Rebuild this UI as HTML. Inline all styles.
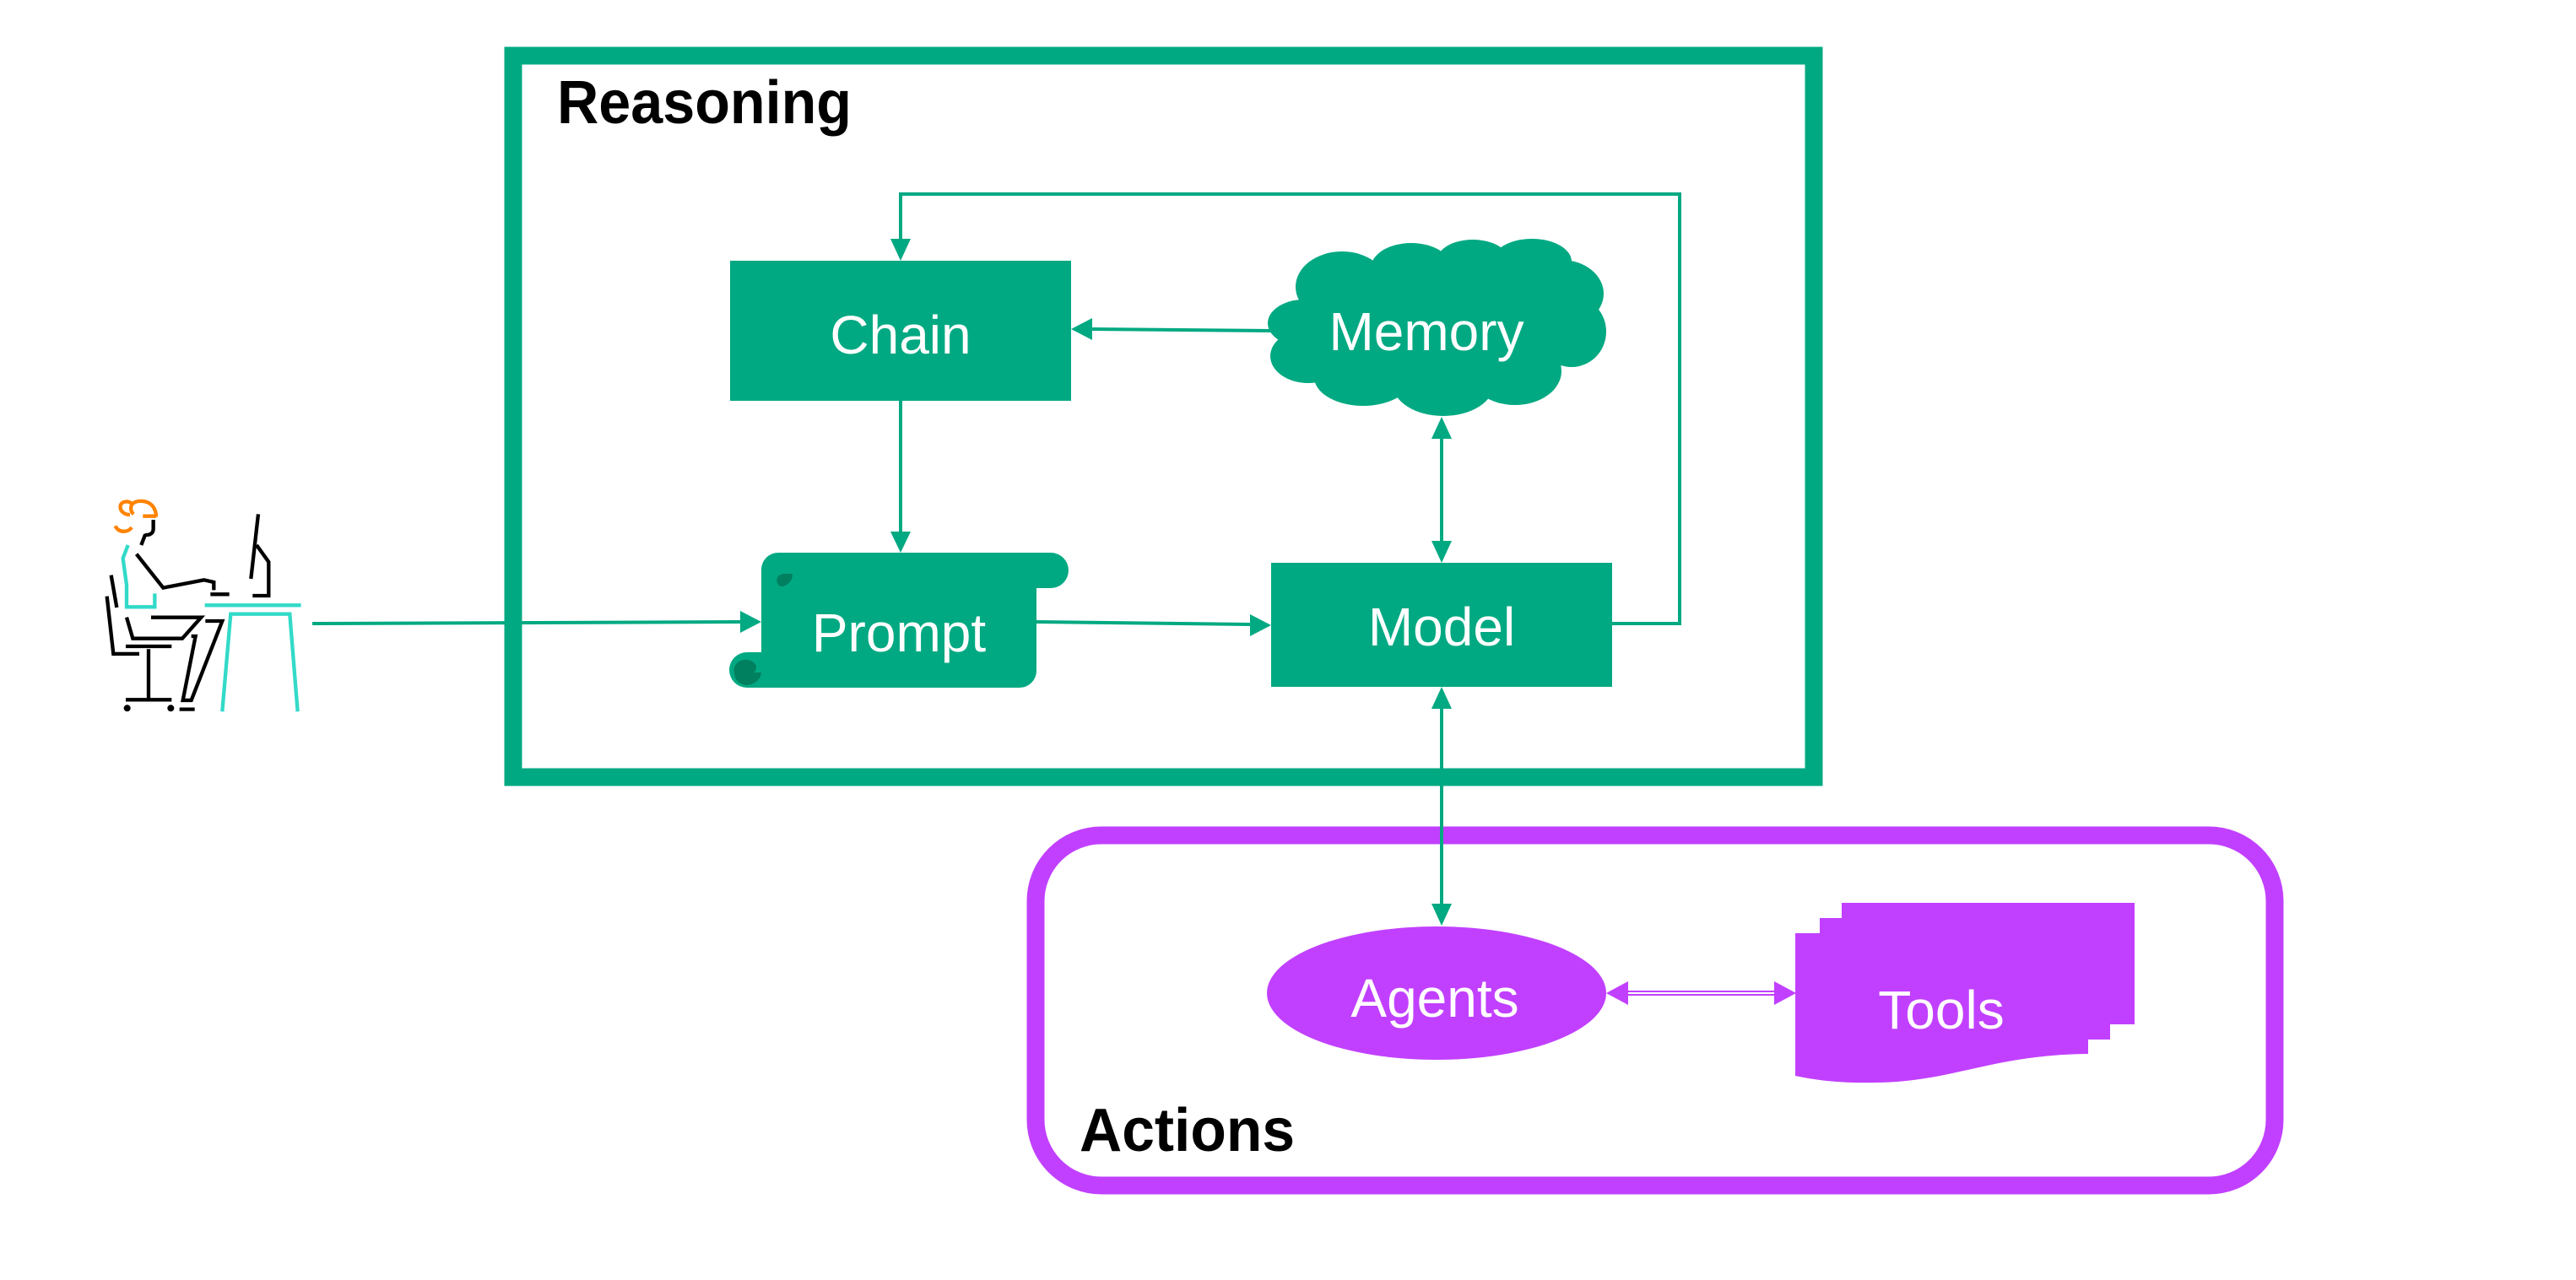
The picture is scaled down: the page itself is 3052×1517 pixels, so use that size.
<!DOCTYPE html>
<html><head><meta charset="utf-8"><style>
html,body{margin:0;padding:0;background:#fff;}
svg{display:block;}
text{font-family:"Liberation Sans",sans-serif;}
</style></head><body>
<svg width="3052" height="1517" viewBox="0 0 3052 1517" xmlns="http://www.w3.org/2000/svg">
<!-- Reasoning box -->
<rect x="608" y="66" width="1541" height="855" fill="none" stroke="#01a982" stroke-width="21"/>
<text x="660" y="146" font-size="72" font-weight="bold" fill="#000" textLength="349" lengthAdjust="spacingAndGlyphs">Reasoning</text>

<!-- Actions box -->
<rect x="1227" y="990" width="1468" height="415" rx="78" ry="78" fill="none" stroke="#c140ff" stroke-width="21"/>
<text x="1279" y="1364" font-size="72" font-weight="bold" fill="#000" textLength="255" lengthAdjust="spacingAndGlyphs">Actions</text>

<!-- connectors -->
<g stroke="#01a982" stroke-width="4" fill="none">
<polyline points="1910,739 1990,739 1990,230 1067,230 1067,285"/>
<line x1="1508" y1="392" x2="1292" y2="390"/>
<line x1="1067" y1="475" x2="1067" y2="632"/>
<line x1="370" y1="739" x2="878" y2="737"/>
<line x1="1228" y1="737" x2="1482" y2="740"/>
<line x1="1708" y1="520" x2="1708" y2="643"/>
<line x1="1708" y1="838" x2="1708" y2="1073"/>
</g>
<g fill="#01a982">
<polygon points="1067,309 1055,283 1079,283"/>
<polygon points="1269,390 1294,377 1294,403"/>
<polygon points="1067,655 1055,630 1079,630"/>
<polygon points="902,737 877,724 877,750"/>
<polygon points="1506,741 1481,728 1481,754"/>
<polygon points="1708,494 1696,520 1720,520"/>
<polygon points="1708,667 1696,641 1720,641"/>
<polygon points="1708,814 1696,840 1720,840"/>
<polygon points="1708,1097 1696,1071 1720,1071"/>
</g>

<!-- Chain -->
<rect x="865" y="309" width="404" height="166" fill="#01a982"/>
<text x="1067" y="419" font-size="64" fill="#fff" text-anchor="middle">Chain</text>

<!-- Memory cloud -->
<g fill="#01a982">
<ellipse cx="1705" cy="395" rx="165" ry="80"/>
<ellipse cx="1545" cy="383" rx="43" ry="28"/>
<ellipse cx="1590" cy="340" rx="55" ry="42"/>
<ellipse cx="1672" cy="318" rx="48" ry="30"/>
<ellipse cx="1745" cy="308" rx="42" ry="24"/>
<ellipse cx="1815" cy="310" rx="47" ry="27"/>
<ellipse cx="1850" cy="348" rx="50" ry="40"/>
<ellipse cx="1862" cy="393" rx="41" ry="42"/>
<ellipse cx="1795" cy="440" rx="55" ry="40"/>
<ellipse cx="1710" cy="455" rx="60" ry="38"/>
<ellipse cx="1615" cy="447" rx="58" ry="34"/>
<ellipse cx="1550" cy="422" rx="45" ry="32"/>
</g>
<text x="1690" y="415" font-size="64" fill="#fff" text-anchor="middle">Memory</text>

<!-- Prompt scroll -->
<path d="M922,655 L1245,655 A21,21 0 0 1 1245,697 L1228,697 L1228,795 A20,20 0 0 1 1208,815 L885,815 A21,21 0 0 1 885,773 L902,773 L902,675 A20,20 0 0 1 922,655 Z" fill="#01a982"/>
<path d="M939,680 L928,680 A9,8 0 0 0 925,695 A14,14 0 0 0 939,680 Z" fill="#018060"/>
<path d="M893,785 A14,12 0 0 0 870,797 L893,797 A9,8 0 0 0 893,785 Z M870,797 A18,16 0 0 0 902,797 Z" fill="#018060"/>
<path d="M870,797 A16,14 0 0 0 884,812 A18,16 0 0 0 902,797 Z" fill="#018060"/>
<text x="1065" y="772" font-size="64" fill="#fff" text-anchor="middle">Prompt</text>

<!-- Model -->
<rect x="1506" y="667" width="404" height="147" fill="#01a982"/>
<text x="1708" y="765" font-size="64" fill="#fff" text-anchor="middle">Model</text>

<!-- Agents -->
<ellipse cx="1702" cy="1177" rx="201" ry="79" fill="#c140ff"/>
<text x="1700" y="1205" font-size="64" fill="#fff" text-anchor="middle">Agents</text>

<!-- Agents <-> Tools -->
<line x1="1925" y1="1177" x2="2108" y2="1177" stroke="#c140ff" stroke-width="6"/>
<line x1="1925" y1="1177" x2="2108" y2="1177" stroke="#fff" stroke-width="2"/>
<polygon points="1903,1177 1929,1163 1929,1191" fill="#c140ff"/>
<polygon points="2128,1177 2102,1163 2102,1191" fill="#c140ff"/>

<!-- Tools -->
<g fill="#c140ff">
<rect x="2182" y="1070" width="347" height="144"/>
<rect x="2156" y="1088" width="344" height="144"/>
<path d="M2127,1106 L2474,1106 L2474,1249 C2360,1250 2310,1283 2222,1283 C2180,1284 2150,1280 2127,1275 Z"/>
</g>
<text x="2300" y="1219" font-size="64" fill="#fff" text-anchor="middle">Tools</text>

<!-- Person at desk -->
<g transform="translate(80,560) scale(0.3333)" fill="none" stroke-width="13" stroke-linejoin="miter">
<path d="M315,155 L268,155 M222,150 C200,150 185,135 188,118 C192,102 215,98 230,112 C240,102 258,100 275,103 C300,108 315,130 315,158 M230,112 C222,125 225,140 235,148 M228,195 C215,215 180,215 170,190" stroke="#ff8300"/>
<path d="M305,168 L305,200 C305,215 295,222 280,222 L275,224 L262,258" stroke="#000"/>
<path d="M215,258 L197,305 L210,400 L210,478 L310,478 L310,430" stroke="#32dac8"/>
<path d="M245,290 L340,410 L485,382 L520,390 L520,418" stroke="#000"/>
<path d="M508,433 L575,433" stroke="#000"/>
<path d="M678,148 L652,378 M672,258 L715,318 L715,438 L658,438" stroke="#000"/>
<path d="M488,472 L830,472 M550,850 L580,503 L790,503 L818,850" stroke="#32dac8"/>
<path d="M155,365 L175,480 M140,440 L163,645 L255,645" stroke="#000"/>
<path d="M210,515 L232,590 L408,590 L475,515 L297,515" stroke="#000"/>
<path d="M490,528 L550,528 L440,810 L410,810 L455,582 L440,582" stroke="#000"/>
<path d="M398,842 L452,842 M207,618 L370,618 M288,628 L288,808 M207,808 L370,808" stroke="#000"/>
<circle cx="212" cy="838" r="12" fill="#000" stroke="none"/>
<circle cx="367" cy="838" r="12" fill="#000" stroke="none"/>
</g>
</svg>
</body></html>
